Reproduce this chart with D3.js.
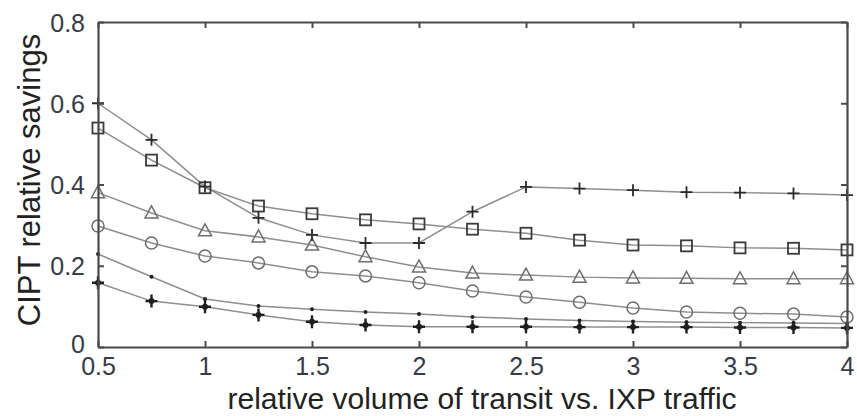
<!DOCTYPE html>
<html>
<head>
<meta charset="utf-8">
<script src="https://cdn.jsdelivr.net/npm/d3@7"></script>
<style>
  html, body { margin: 0; padding: 0; background: #fff; }
  svg { display: block; }
  text { font-family: "Liberation Sans", Arial, Helvetica, sans-serif; }
</style>
</head>
<body>
<svg id="chart" width="857" height="416"></svg>
<script>
// Relative transit volume (x) and CIPT relative savings for six scenarios
const xValues = [0.5, 0.75, 1.0, 1.25, 1.5, 1.75, 2.0, 2.25, 2.5, 2.75, 3.0, 3.25, 3.5, 3.75, 4.0];
const plusSeries   = [0.600, 0.510, 0.395, 0.318, 0.276, 0.256, 0.256, 0.333, 0.394, 0.390, 0.386, 0.381, 0.380, 0.378, 0.374];
const squareSeries = [0.539, 0.460, 0.392, 0.347, 0.328, 0.313, 0.303, 0.290, 0.280, 0.263, 0.251, 0.249, 0.244, 0.243, 0.239];
const triSeries    = [0.380, 0.330, 0.286, 0.271, 0.251, 0.222, 0.197, 0.182, 0.177, 0.172, 0.170, 0.169, 0.168, 0.168, 0.168];
const circleSeries = [0.298, 0.256, 0.224, 0.207, 0.185, 0.175, 0.158, 0.138, 0.123, 0.110, 0.096, 0.086, 0.083, 0.081, 0.074];
const dotSeries    = [0.229, 0.173, 0.118, 0.101, 0.093, 0.086, 0.081, 0.074, 0.069, 0.065, 0.063, 0.061, 0.060, 0.059, 0.058];
const starSeries   = [0.158, 0.113, 0.099, 0.079, 0.062, 0.054, 0.050, 0.050, 0.050, 0.049, 0.049, 0.049, 0.048, 0.048, 0.047];

const xTicks = [0.5, 1, 1.5, 2, 2.5, 3, 3.5, 4];
const yTicks = [0, 0.2, 0.4, 0.6, 0.8];
const xTickLabels = ["0.5", "1", "1.5", "2", "2.5", "3", "3.5", "4"];
const yTickLabels = ["0", "0.2", "0.4", "0.6", "0.8"];

const svg = d3.select("#chart");
const plotLeft = 98, plotRight = 847, plotTop = 22, plotBottom = 347;

const x = d3.scaleLinear().domain([0.5, 4]).range([plotLeft, plotRight]);
const y = d3.scaleLinear().domain([0, 0.8]).range([plotBottom, plotTop]);

const series = [
  { values: dotSeries,    marker: "dot" },
  { values: starSeries,   marker: "star" },
  { values: circleSeries, marker: "circle" },
  { values: triSeries,    marker: "triangle" },
  { values: squareSeries, marker: "square" },
  { values: plusSeries,   marker: "plus" }
];

const line = d3.line().x((d, i) => x(xValues[i])).y(d => y(d));

// connecting lines
svg.append("g").selectAll("path")
  .data(series)
  .join("path")
  .attr("d", s => line(s.values))
  .attr("fill", "none")
  .attr("stroke", "#8e8e8e")
  .attr("stroke-width", 1.5);

// markers
const mk = svg.append("g");
series.forEach(s => {
  const g = mk.append("g");
  s.values.forEach((v, i) => {
    const cx = x(xValues[i]), cy = y(v);
    if (s.marker === "plus") {
      g.append("path")
        .attr("d", `M${cx - 6},${cy}H${cx + 6}M${cx},${cy - 6}V${cy + 6}`)
        .attr("stroke", "#2a2a2a").attr("stroke-width", 1.8).attr("fill", "none");
    } else if (s.marker === "star") {
      g.append("path")
        .attr("d", `M${cx - 6},${cy}H${cx + 6}M${cx},${cy - 6.5}V${cy + 6.5}`)
        .attr("stroke", "#1e1e1e").attr("stroke-width", 2.4).attr("fill", "none");
      g.append("circle")
        .attr("cx", cx).attr("cy", cy).attr("r", 3)
        .attr("fill", "#1e1e1e");
    } else if (s.marker === "square") {
      g.append("rect")
        .attr("x", cx - 5.5).attr("y", cy - 5.5).attr("width", 11).attr("height", 11)
        .attr("stroke", "#3a3a3a").attr("stroke-width", 1.8).attr("fill", "none");
    } else if (s.marker === "circle") {
      g.append("circle")
        .attr("cx", cx).attr("cy", cy).attr("r", 6)
        .attr("stroke", "#6e6e6e").attr("stroke-width", 1.5).attr("fill", "none");
    } else if (s.marker === "triangle") {
      g.append("path")
        .attr("d", `M${cx},${cy - 7}L${cx + 6.5},${cy + 5}L${cx - 6.5},${cy + 5}Z`)
        .attr("stroke", "#6e6e6e").attr("stroke-width", 1.5).attr("fill", "none");
    } else if (s.marker === "dot") {
      g.append("circle")
        .attr("cx", cx).attr("cy", cy).attr("r", 2)
        .attr("fill", "#222");
    }
  });
});

// axes box with inward ticks on all sides
const axisColor = "#4a4a4a";
const tickFmt = (arr, labels) => d => labels[arr.indexOf(d)];

const gBottom = svg.append("g").attr("transform", `translate(0,${plotBottom})`)
  .call(d3.axisBottom(x).tickValues(xTicks).tickFormat(tickFmt(xTicks, xTickLabels)).tickSizeInner(-6).tickSizeOuter(0).tickPadding(14));
const gTop = svg.append("g").attr("transform", `translate(0,${plotTop})`)
  .call(d3.axisTop(x).tickValues(xTicks).tickFormat("").tickSizeInner(-6).tickSizeOuter(0));
const gLeft = svg.append("g").attr("transform", `translate(${plotLeft},0)`)
  .call(d3.axisLeft(y).tickValues(yTicks).tickFormat(tickFmt(yTicks, yTickLabels)).tickSizeInner(-6).tickSizeOuter(0).tickPadding(13));
const gRight = svg.append("g").attr("transform", `translate(${plotRight},0)`)
  .call(d3.axisRight(y).tickValues(yTicks).tickFormat("").tickSizeInner(-6).tickSizeOuter(0));

[gBottom, gTop, gLeft, gRight].forEach(g => {
  g.select(".domain").attr("stroke", axisColor).attr("stroke-width", 2.2);
  g.selectAll(".tick line").attr("stroke", axisColor).attr("stroke-width", 2);
  g.selectAll(".tick text")
    .attr("fill", "#363b47")
    .style("font-size", "25px")
    .style("font-family", "'Liberation Sans', Arial, sans-serif");
});
gLeft.selectAll(".tick text").attr("dy", "0.36em");
// the "0" label sits a touch higher so it clears the "0.5" below it
gLeft.selectAll(".tick text").filter(d => d === 0).attr("dy", "0.22em");
gBottom.selectAll(".tick text").attr("dy", "0.56em");

// axis titles
svg.append("text")
  .attr("x", 482).attr("y", 409)
  .attr("text-anchor", "middle")
  .attr("fill", "#222")
  .style("font-size", "30px")
  .text("relative volume of transit vs. IXP traffic");

svg.append("text")
  .attr("transform", `translate(40,180) rotate(-90)`)
  .attr("text-anchor", "middle")
  .attr("fill", "#222")
  .style("font-size", "31px")
  .text("CIPT relative savings");
</script>
</body>
</html>
